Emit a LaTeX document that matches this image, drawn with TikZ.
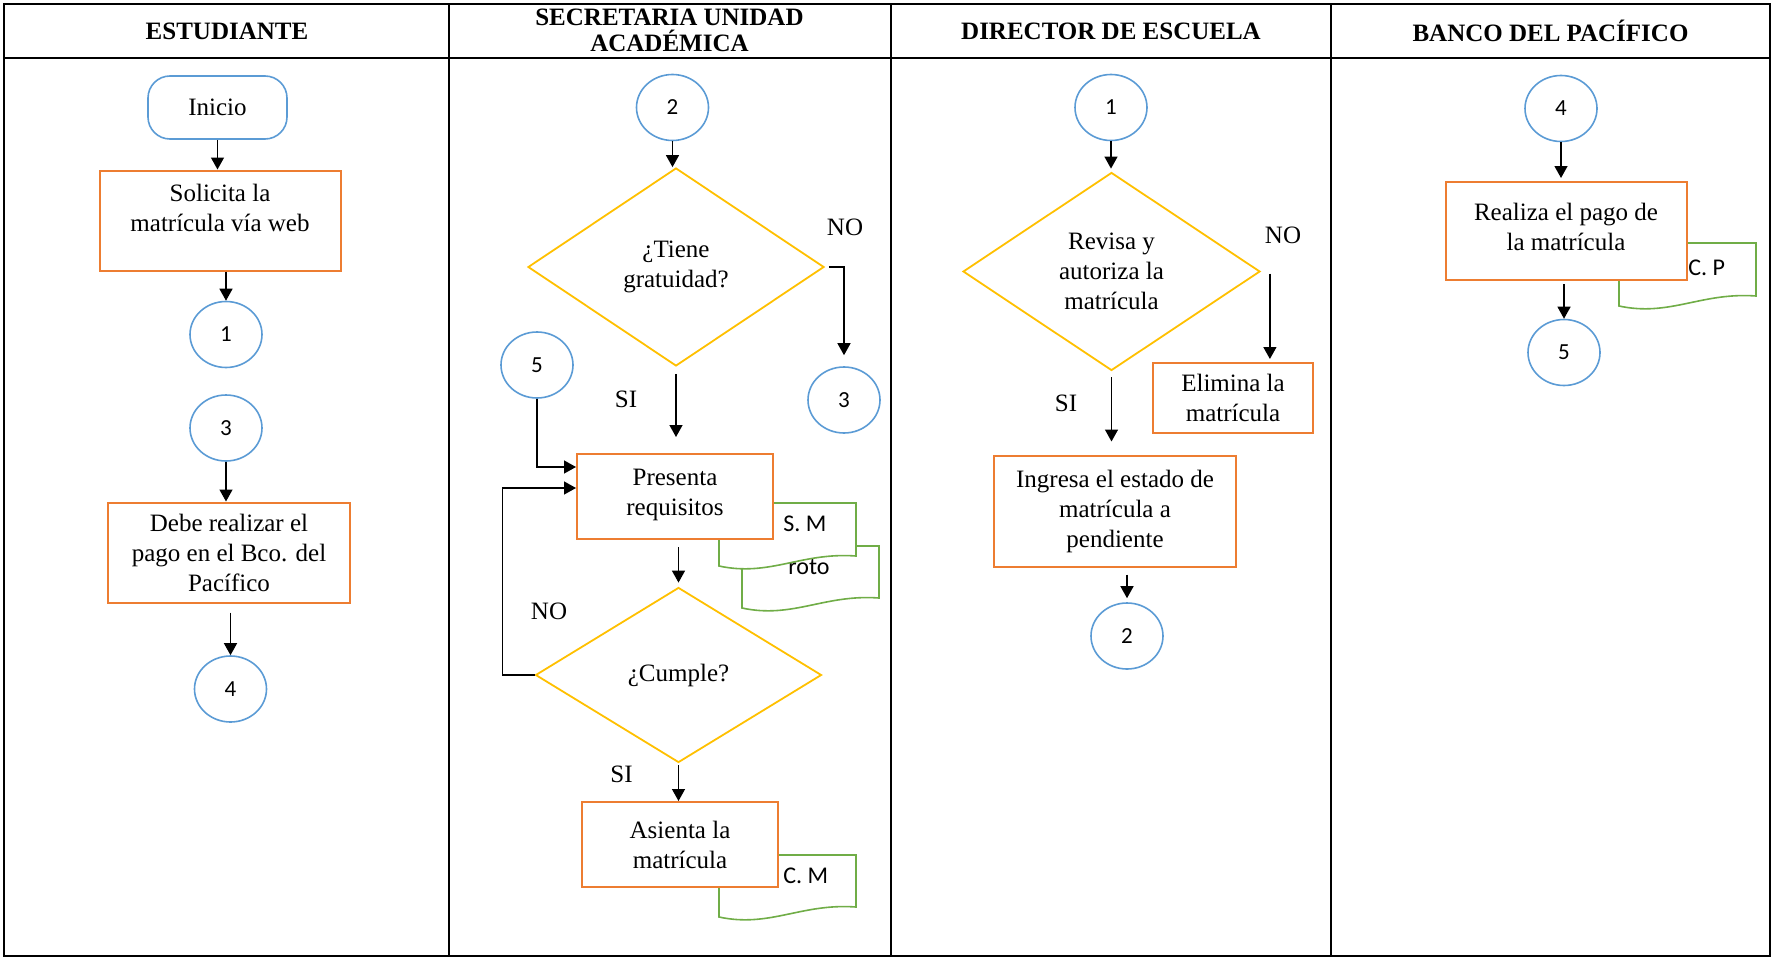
\documentclass[tikz,border=0pt]{standalone}
\usepackage{fontspec}
\setmainfont{Liberation Serif}
\newfontfamily\calibri{Carlito}
\usetikzlibrary{shapes.geometric,arrows.meta}

\definecolor{azul}{HTML}{5B9BD5}
\definecolor{naranja}{HTML}{ED7D31}
\definecolor{amarillo}{HTML}{FFC000}
\definecolor{verde}{HTML}{70AD47}

% documento: izquierda, arriba, derecha, abajo (lado derecho)
\newcommand{\documento}[4]{%
  \draw[docu] (#1,#2) -- (#3,#2) -- (#3,#4)
    .. controls ({#3-0.4*(#3-#1)},{#4-4}) and ({#1+0.37*(#3-#1)},{#4+21}) .. (#1,{#4+10}) -- cycle;
}

\begin{document}
\begin{tikzpicture}[x=0.5pt, y=-0.5pt, font=\fontsize{12.5}{15}\selectfont]
    \tikzset{
      proceso/.style={rectangle, draw=naranja, line width=1pt, fill=white,
                      align=center, inner sep=2pt},
      decision/.style={diamond, draw=amarillo, line width=0.9pt, fill=white,
                       align=center, inner sep=0pt, aspect=1.5},
      conector/.style={ellipse, draw=azul, line width=0.8pt, fill=white,
                       minimum width=36pt, minimum height=33pt, inner sep=0pt,
                       font=\calibri\fontsize{11.5}{13}\selectfont},
      terminal/.style={rectangle, rounded corners=11pt, draw=azul, line width=0.8pt,
                       minimum width=69.5pt, minimum height=31.5pt},
      flecha/.style={-{Triangle[length=6pt, width=6.5pt]}, line width=0.7pt},
      docu/.style={draw=verde, line width=0.8pt, fill=white},
      doctexto/.style={font=\calibri\fontsize{12}{14}\selectfont, anchor=west, inner sep=0pt},
      carril/.style={font=\bfseries\fontsize{12.5}{13}\selectfont, align=center},
      tabla/.style={line width=1pt}
    }
    \useasboundingbox (0,0) rectangle (1772,958);

    % Tabla de carriles
    \draw[tabla] (4,4) rectangle (1770,956);
    \draw[tabla] (4,57.5) -- (1770,57.5);
    \foreach \x in {448.5, 890.5, 1331}
      \draw[tabla] (\x,4) -- (\x,956);

    \node[carril] (hest) at (227,31) {ESTUDIANTE};
    \node[carril] (hsec) at (669.5,30) {SECRETARIA UNIDAD\\ACADÉMICA};
    \node[carril] (hdir) at (1111,31) {DIRECTOR DE ESCUELA};
    \node[carril] (hban) at (1550.5,31) {BANCO DEL PACÍFICO};

    % Documentos (detrás de los procesos)
    \documento{742}{546}{879}{598}
    \node[doctexto] (roto) at (788,567) {roto};
    \documento{719}{503}{856}{556}
    \node[doctexto] (sm) at (783,524) {S. M};
    \documento{719}{855}{856}{907}
    \node[doctexto] (cm) at (783,876) {C. M};
    \documento{1619}{243}{1756}{296}
    \node[doctexto] (cp) at (1688,268) {C. P};

    % Estudiante
    \node[terminal] (ini) at (217.5,107.5) {Inicio};
    \node[proceso, minimum width=120.5pt, minimum height=50pt, text depth=13pt] (sol) at (220,220.5)
      {Solicita la\\matrícula vía web};
    \node[conector] (c1e) at (226,334.5) {1};
    \node[conector] (c3e) at (226,428) {3};
    \node[proceso, minimum width=121pt, minimum height=50pt] (debe) at (229,552.5)
      {Debe realizar el\\pago en el Bco. del\\Pacífico};
    \node[conector] (c4e) at (230.5,689) {4};

    % Secretaría
    \node[conector] (c2s) at (672.5,107.5) {2};
    \node[decision, minimum width=148pt, minimum height=99pt] (tiene) at (676,267)
      {¿Tiene\\gratuidad?};
    \node[conector] (c3s) at (844,400) {3};
    \node[conector] (c5s) at (537,365) {5};
    \node[proceso, minimum width=98pt, minimum height=42.5pt, text depth=4.5pt] (pres) at (675,496.5)
      {Presenta\\requisitos};
    \node[decision, minimum width=143pt, minimum height=87.5pt] (cumple) at (678.5,675)
      {¿Cumple?};
    \node[proceso, minimum width=98pt, minimum height=42.5pt] (asi) at (680,844.5)
      {Asienta la\\matrícula};

    \node (noTiene) at (845,227) {NO};
    \node (siTiene) at (626,399) {SI};
    \node (noCumple) at (549,611) {NO};
    \node (siCumple) at (621.5,774) {SI};

    % Director
    \node[conector] (c1d) at (1111,107.5) {1};
    \node[decision, minimum width=148.5pt, minimum height=99pt] (revisa) at (1111.5,271.5)
      {Revisa y\\autoriza la\\matrícula};
    \node[proceso, minimum width=80pt, minimum height=35pt] (elim) at (1233,398)
      {Elimina la\\matrícula};
    \node[proceso, minimum width=121pt, minimum height=55.5pt] (ing) at (1115,511)
      {Ingresa el estado de\\matrícula a\\pendiente};
    \node[conector] (c2d) at (1127,636) {2};

    \node (noRevisa) at (1283,235) {NO};
    \node (siRevisa) at (1066,403) {SI};

    % Banco
    \node[conector] (c4b) at (1561,108.5) {4};
    \node[proceso, minimum width=120.5pt, minimum height=49pt, text depth=4.5pt] (real) at (1566,231)
      {Realiza el pago de\\la matrícula};
    \node[conector] (c5b) at (1564,352.5) {5};

    % Flechas
    \draw[flecha] (ini) -- (ini |- sol.north);
    \draw[flecha] (sol.south -| c1e) -- (c1e.north);
    \draw[flecha] (c3e) -- (c3e |- debe.north);
    \draw[flecha, shorten <=4.5pt] (debe.south -| c4e) -- (c4e.north);

    \draw[flecha] (c2s) -- (c2s |- tiene.north);
    \draw[flecha, shorten <=3.5pt, shorten >=8pt] (tiene) -- (tiene |- pres.north);
    \draw[flecha, shorten <=2pt, shorten >=5.5pt] (tiene.east) -| (c3s.north);
    \draw[flecha] (c5s) |- ([yshift=14.75pt]pres.west);
    \draw[flecha, shorten <=3.5pt, shorten >=2pt] (cumple.north |- pres.south) -- (cumple.north);
    \draw[flecha] (cumple.west) -- ++(-16pt,0) |- ([yshift=4.25pt]pres.west);
    \draw[flecha, shorten <=1pt] (cumple) -- (cumple |- asi.north);

    \draw[flecha, shorten >=1.5pt] (c1d) -- (c1d |- revisa.north);
    \coordinate (noRev) at ([xshift=4.5pt]revisa.east);
    \draw[flecha, shorten <=1pt, shorten >=1.5pt] (noRev) -- (noRev |- elim.north);
    \draw[flecha, shorten <=3pt, shorten >=6.5pt] (revisa) -- (revisa |- ing.north);
    \draw[flecha, shorten <=3.5pt, shorten >=2pt] (ing.south -| c2d) -- (c2d.north);

    \draw[flecha, shorten >=1.5pt] (c4b) -- (c4b |- real.north);
    \draw[flecha, shorten <=1.5pt] (real.south -| c5b) -- (c5b.north);
  \end{tikzpicture}
\end{document}
